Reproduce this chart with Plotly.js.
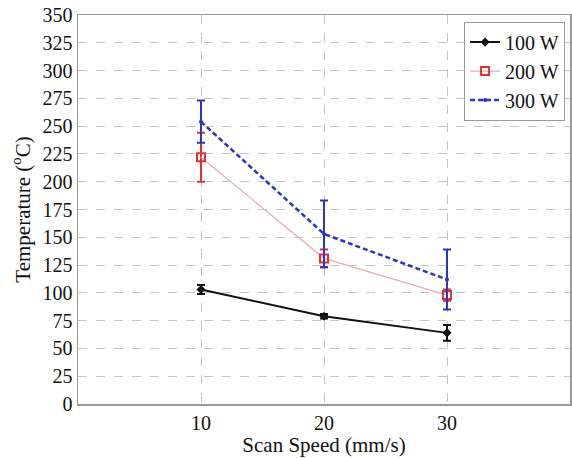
<!DOCTYPE html>
<html>
<head>
<meta charset="utf-8">
<script src="https://cdn.plot.ly/plotly-3.0.1.min.js"></script>
<style>html,body{margin:0;padding:0;background:#fff;}#chart{width:572px;height:458px;}</style>
</head>
<body>
<div id="chart"></div>
<script>
const speeds = [10, 20, 30];
const seriesNames = ['100 W', '200 W', '300 W'];
const temp100 = [103, 79, 64];
const err100 = [4, 2, 7];
const temp200 = [222, 131, 98];
const err200 = [22, 8, 5];
const temp300 = [254, 153, 112];
const err300 = [19, 30, 27];
const yTicks = [0, 25, 50, 75, 100, 125, 150, 175, 200, 225, 250, 275, 300, 325, 350];
const xTicks = [10, 20, 30];

const traces = [
  {
    x: speeds, y: temp100, name: seriesNames[0], type: 'scatter', mode: 'lines+markers',
    line: {color: '#111', width: 2},
    marker: {symbol: 'diamond', size: 7, color: '#111'},
    error_y: {type: 'data', array: err100, visible: true, color: '#111', thickness: 2, width: 4}
  },
  {
    x: speeds, y: temp200, name: seriesNames[1], type: 'scatter', mode: 'lines+markers',
    line: {color: '#e6b0b0', width: 1.3},
    marker: {symbol: 'square-open', size: 8, color: '#e03030', line: {width: 2, color: '#e03030'}},
    error_y: {type: 'data', array: err200, visible: true, color: '#e03030', thickness: 2, width: 4}
  },
  {
    x: speeds, y: temp300, name: seriesNames[2], type: 'scatter', mode: 'lines+markers',
    line: {color: '#2b35c0', width: 2.5, dash: '5px,3px'},
    marker: {symbol: 'circle', size: 4, color: '#2b35c0'},
    error_y: {type: 'data', array: err300, visible: true, color: '#2b35c0', thickness: 2, width: 4}
  }
];

const FAMILY = 'Liberation Serif, DejaVu Serif, serif';
const tickFont = {family: FAMILY, size: 20, color: '#111'};
const titleFont = {family: FAMILY, size: 21, color: '#111'};
const legFont = {family: FAMILY, size: 20, color: '#111'};

const layout = {
  width: 572, height: 458,
  margin: {l: 78, r: 2, t: 15, b: 54},
  paper_bgcolor: '#fff', plot_bgcolor: '#fff',
  font: tickFont,
  showlegend: true,
  legend: {
    x: 0.99, y: 0.983, xanchor: 'right', yanchor: 'top',
    bgcolor: '#fff', bordercolor: '#999', borderwidth: 1,
    font: legFont, tracegroupgap: 0
  },
  xaxis: {
    range: [0, 40], tickvals: xTicks, ticktext: xTicks.map(String),
    showgrid: true, gridcolor: '#c4c4c4', griddash: 'dash', gridwidth: 1,
    showline: true, linecolor: '#999', linewidth: 1.5, mirror: true,
    ticks: '', zeroline: false, tickfont: tickFont,
    title: {text: 'Scan Speed (mm/s)', font: titleFont, standoff: 0}
  },
  yaxis: {
    range: [0, 350], tickvals: yTicks, ticktext: yTicks.map(String),
    showgrid: true, gridcolor: '#c4c4c4', griddash: 'dash', gridwidth: 1,
    showline: true, linecolor: '#999', linewidth: 1.5, mirror: true,
    ticks: '', zeroline: false, tickfont: tickFont,
    title: {text: 'Temperature (<sup>o</sup>C)', font: titleFont, standoff: 6}
  }
};

Plotly.newPlot('chart', traces, layout, {displayModeBar: false, staticPlot: true});
</script>
</body>
</html>
